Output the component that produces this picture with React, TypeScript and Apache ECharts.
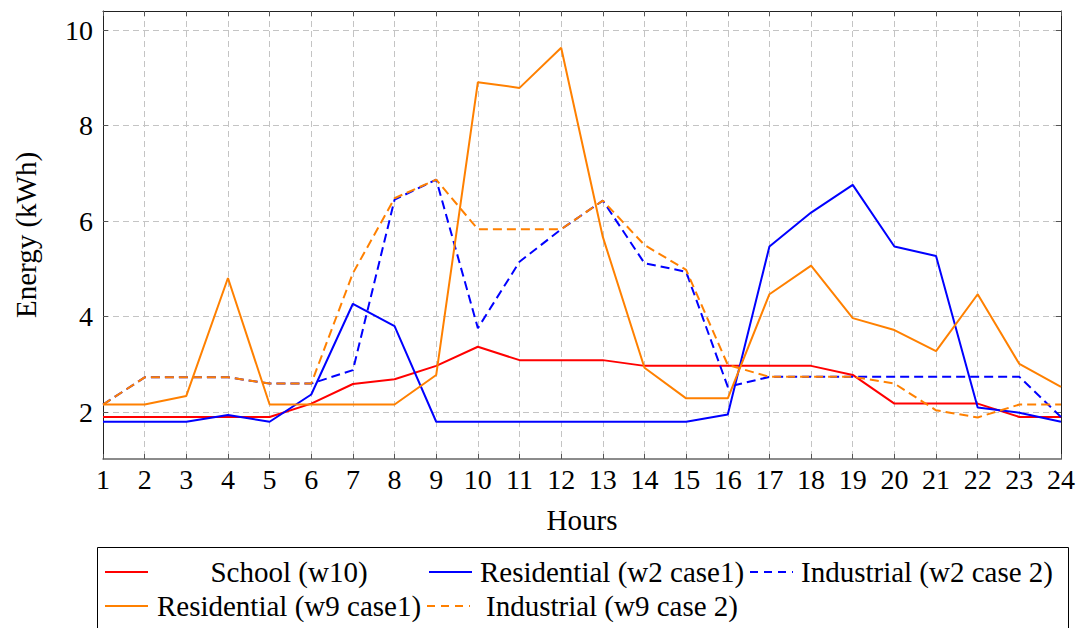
import React, { useEffect, useRef } from "react";
import * as echarts from "echarts";

const hours = [1, 2, 3, 4, 5, 6, 7, 8, 9, 10, 11, 12, 13, 14, 15, 16, 17, 18, 19, 20, 21, 22, 23, 24];
const yTicks = [2, 4, 6, 8, 10];

const schoolW10 = [1.9, 1.9, 1.9, 1.9, 1.9, 2.18, 2.59, 2.69, 2.97, 3.37, 3.09, 3.09, 3.09, 2.97, 2.97, 2.97, 2.97, 2.97, 2.78, 2.18, 2.18, 2.18, 1.9, 1.9];
const residentialW2 = [1.8, 1.8, 1.8, 1.94, 1.8, 2.37, 4.27, 3.8, 1.8, 1.8, 1.8, 1.8, 1.8, 1.8, 1.8, 1.95, 5.47, 6.18, 6.76, 5.47, 5.27, 2.1, 1.99, 1.8];
const industrialW2 = [2.16, 2.73, 2.73, 2.73, 2.6, 2.6, 2.88, 6.45, 6.87, 3.76, 5.15, 5.83, 6.43, 5.12, 4.94, 2.53, 2.74, 2.74, 2.74, 2.74, 2.74, 2.74, 2.74, 1.9];
const residentialW9 = [2.16, 2.16, 2.34, 4.81, 2.16, 2.16, 2.16, 2.16, 2.78, 8.91, 8.79, 9.63, 5.67, 2.93, 2.29, 2.29, 4.47, 5.07, 3.97, 3.72, 3.28, 4.47, 3.01, 2.53];
const industrialW9 = [2.16, 2.73, 2.73, 2.73, 2.6, 2.6, 4.91, 6.48, 6.87, 5.83, 5.83, 5.83, 6.43, 5.5, 4.98, 2.99, 2.74, 2.74, 2.74, 2.6, 2.04, 1.89, 2.16, 2.16];

const seriesNames = [
  "School (w10)",
  "Residential (w2 case1)",
  "Industrial (w2 case 2)",
  "Residential (w9 case1)",
  "Industrial (w9 case 2)",
];
const seriesColors = ["#ff0000", "#0000ff", "#0000ff", "#ff8000", "#ff8000"];
const seriesDashed = [false, false, true, false, true];
const seriesValues = [schoolW10, residentialW2, industrialW2, residentialW9, industrialW9];

const FONT = "'Liberation Serif', 'Times New Roman', serif";

export default function App() {
  const ref = useRef<HTMLDivElement>(null);
  useEffect(() => {
    document.body.style.margin = "0";
    const chart = echarts.init(ref.current!, null, { renderer: "svg" });
    const gridDash = { type: [6, 4] as any, color: "#c4c4c4", width: 1 };
    const tickStyle = { inside: true, length: 5, lineStyle: { color: "#555", width: 1 } };
    const yMin = 1.02;
    const yMax = 10.4;

    const legendItems = [
      { idx: 0, lx: 105, tx: 289, y: 572 },
      { idx: 1, lx: 429, tx: 612, y: 572 },
      { idx: 2, lx: 750, tx: 927, y: 572 },
      { idx: 3, lx: 105, tx: 289, y: 606 },
      { idx: 4, lx: 427, tx: 612, y: 606 },
    ];
    const graphics: any[] = [
      {
        type: "rect",
        shape: { x: 97.5, y: 547.5, width: 971, height: 100 },
        style: { fill: "#fff", stroke: "#000", lineWidth: 1 },
        z: 1,
      },
    ];
    legendItems.forEach((it) => {
      graphics.push({
        type: "line",
        shape: { x1: it.lx, y1: it.y, x2: it.lx + 43, y2: it.y },
        style: {
          stroke: seriesColors[it.idx],
          lineWidth: 2,
          lineDash: seriesDashed[it.idx] ? [8, 6] : null,
        },
        z: 2,
      });
      graphics.push({
        type: "text",
        x: it.tx,
        y: it.y,
        style: {
          text: seriesNames[it.idx],
          fill: "#000",
          font: `29px ${FONT}`,
          align: "center",
          verticalAlign: "middle",
        },
        z: 2,
      });
    });

    chart.setOption({
      animation: false,
      textStyle: { fontFamily: FONT },
      grid: { left: 103, right: 16, top: 11, bottom: 169, containLabel: false },
      xAxis: [
        {
          type: "value",
          min: 1,
          max: 24,
          interval: 1,
          name: "Hours",
          nameLocation: "middle",
          nameGap: 46,
          nameTextStyle: { fontSize: 29, color: "#000", fontFamily: FONT },
          axisLine: { show: true, lineStyle: { color: "#666", width: 1.5 } },
          axisTick: tickStyle,
          axisLabel: { fontSize: 28, color: "#000", margin: 6, fontFamily: FONT },
          splitLine: { show: true, lineStyle: gridDash },
        },
        {
          type: "value",
          position: "top",
          min: 1,
          max: 24,
          interval: 1,
          axisLine: { show: true, lineStyle: { color: "#222", width: 1 } },
          axisTick: tickStyle,
          axisLabel: { show: false },
          splitLine: { show: false },
        },
      ],
      yAxis: [
        {
          type: "value",
          min: yMin,
          max: yMax,
          name: "Energy (kWh)",
          nameLocation: "middle",
          nameGap: 63,
          nameRotate: 90,
          nameTextStyle: { fontSize: 29, color: "#000", fontFamily: FONT },
          axisLine: { show: true, lineStyle: { color: "#222", width: 1 } },
          axisTick: { ...tickStyle, customValues: yTicks },
          axisLabel: { fontSize: 28, color: "#000", margin: 10, fontFamily: FONT, customValues: yTicks },
          splitLine: { show: true, lineStyle: gridDash },
        },
        {
          type: "value",
          position: "right",
          min: yMin,
          max: yMax,
          axisLine: { show: true, lineStyle: { color: "#222", width: 1 } },
          axisTick: { ...tickStyle, customValues: yTicks },
          axisLabel: { show: false, customValues: yTicks },
          splitLine: { show: false },
        },
      ],
      series: seriesValues.map((vals, i) => ({
        name: seriesNames[i],
        type: "line",
        xAxisIndex: 0,
        yAxisIndex: 0,
        data: hours.map((h, j) => [h, vals[j]]),
        symbol: "none",
        lineStyle: {
          color: seriesColors[i],
          width: 2,
          type: seriesDashed[i] ? [9, 5] : "solid",
        },
        itemStyle: { color: seriesColors[i] },
        z: 3 + i,
      })),
      graphic: graphics,
    });
    return () => chart.dispose();
  }, []);
  return <div ref={ref} style={{ width: 1078, height: 628 }} />;
}
